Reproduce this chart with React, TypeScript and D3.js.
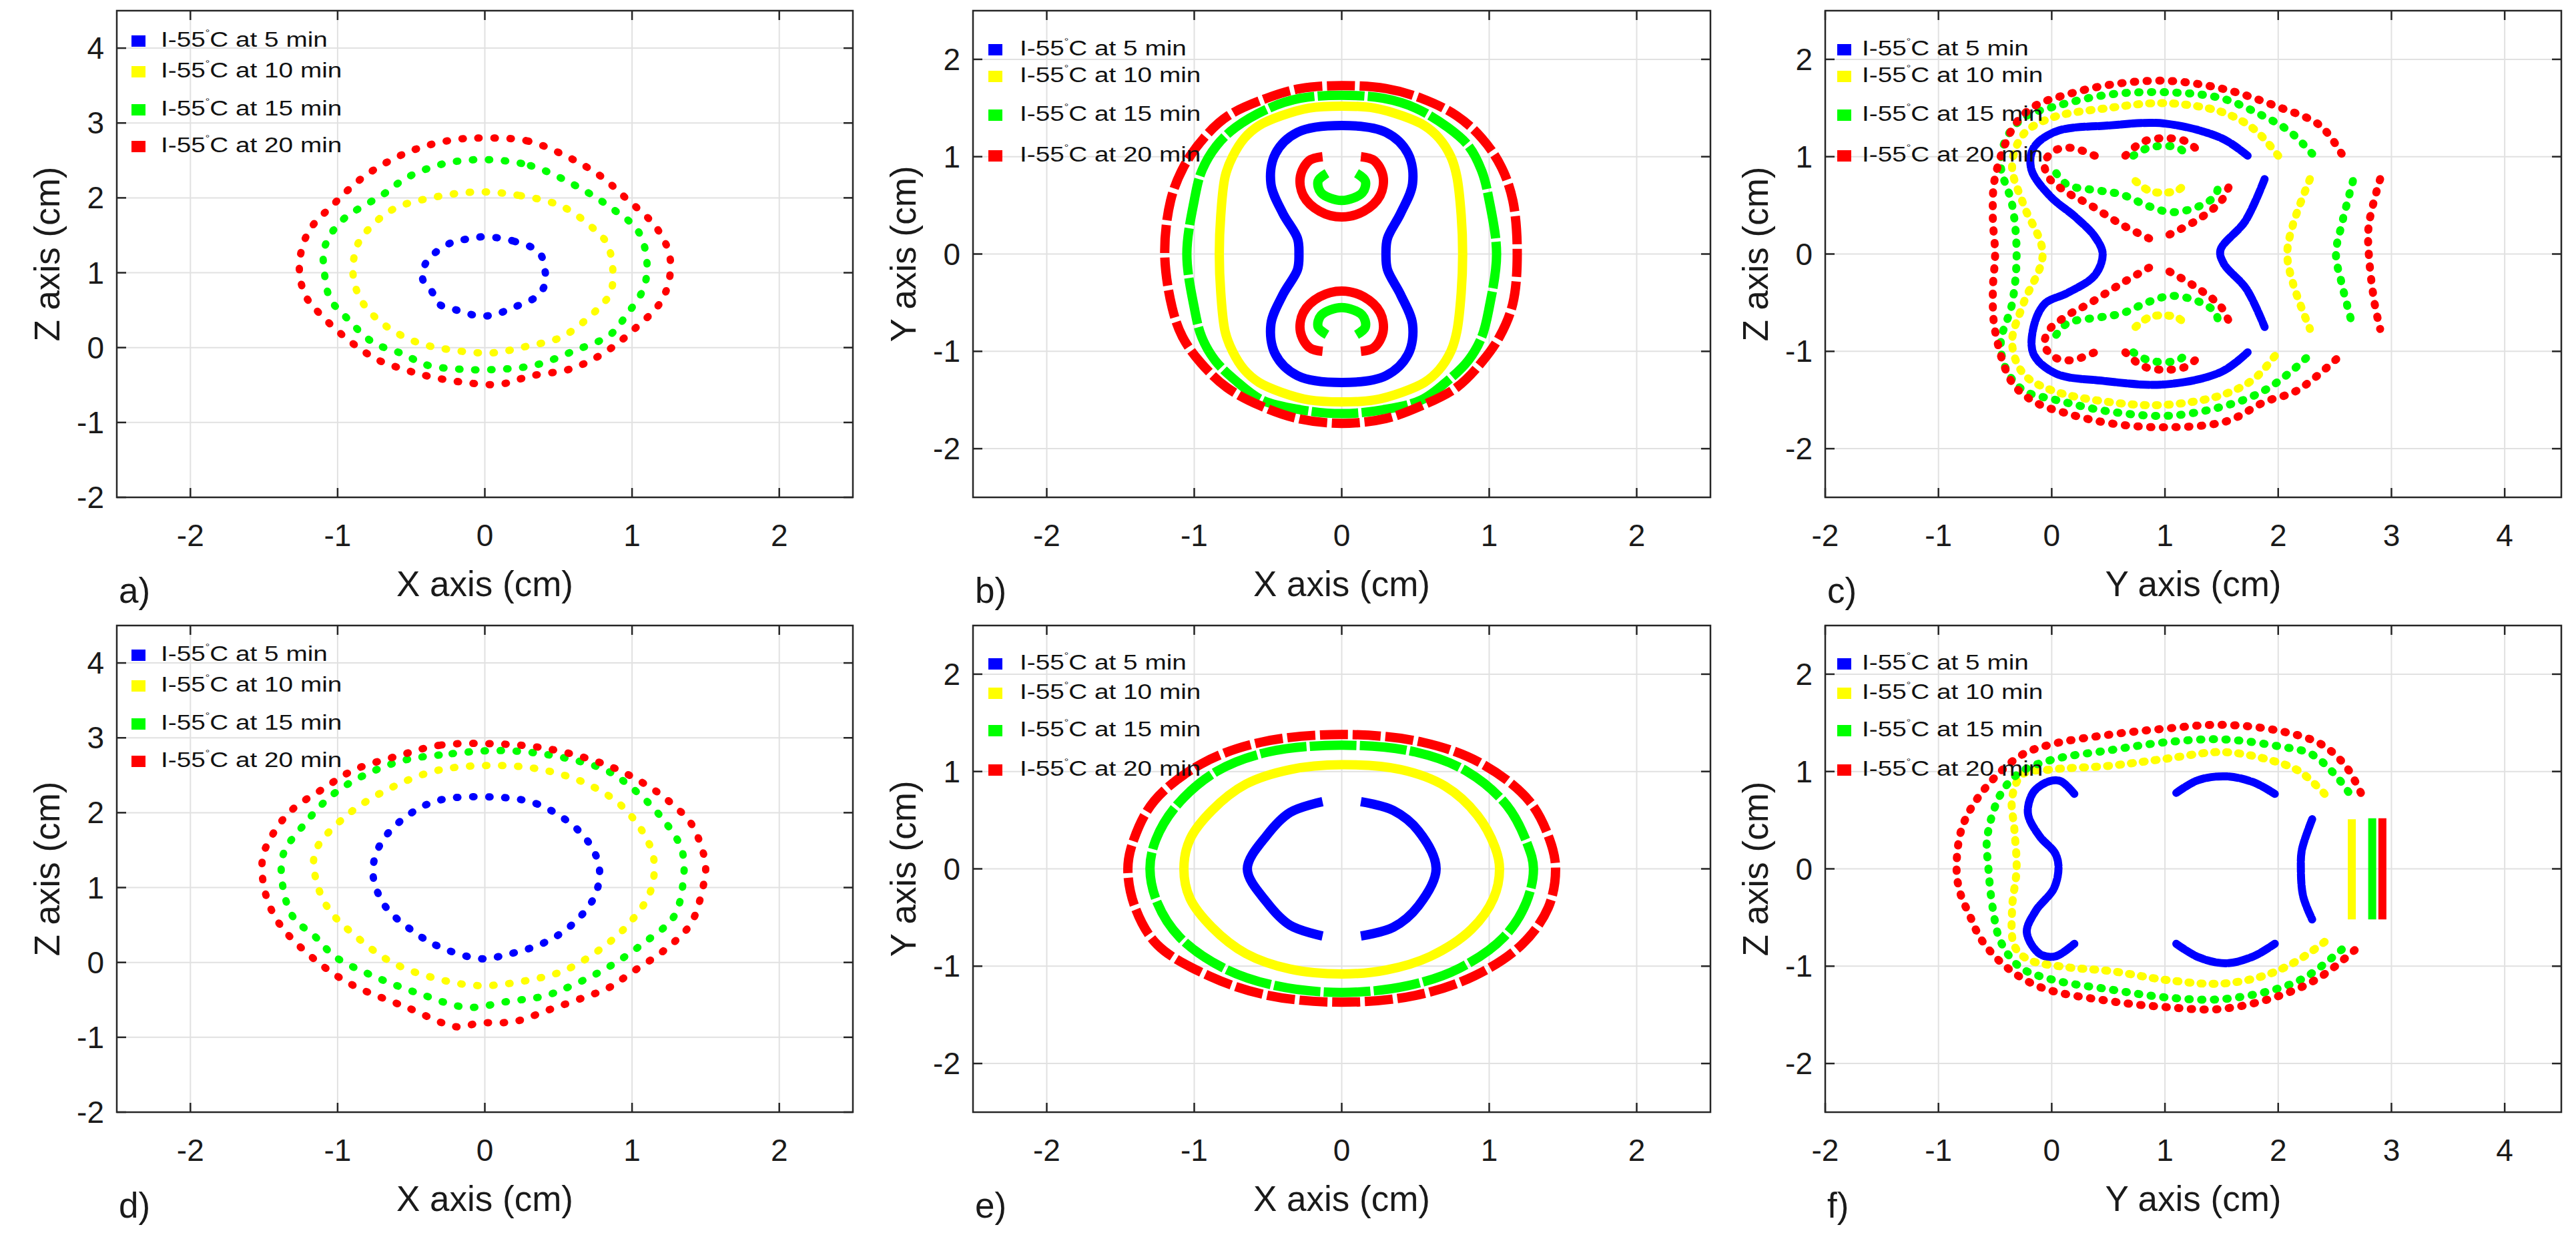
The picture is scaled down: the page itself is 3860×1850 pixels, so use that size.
import * as d3 from 'd3';

type Pt = [number, number];

// ---- panel a : XZ plane, side 1 ----
const aBlue: Pt[] = [[0, 1.48], [0.2, 1.42], [0.37, 1.27], [0.41, 1.01], [0.41, 0.85], [0.35, 0.68], [0.2, 0.54], [0.08, 0.45], [-0.03, 0.42], [-0.19, 0.5], [-0.31, 0.58], [-0.36, 0.75], [-0.42, 0.9], [-0.42, 1.03], [-0.38, 1.19], [-0.23, 1.4], [-0.12, 1.45]];
const aYellow: Pt[] = [[-0.03, 2.08], [0.24, 2.03], [0.52, 1.89], [0.72, 1.62], [0.83, 1.39], [0.87, 1.01], [0.85, 0.72], [0.72, 0.43], [0.52, 0.14], [0.29, 0.02], [0.05, -0.07], [-0.23, -0.03], [-0.46, 0.07], [-0.68, 0.3], [-0.83, 0.6], [-0.89, 0.9], [-0.89, 1.19], [-0.85, 1.43], [-0.64, 1.83], [-0.34, 2.01]];
const aGreen: Pt[] = [[0.01, 2.51], [0.31, 2.43], [0.61, 2.17], [0.87, 1.85], [1.04, 1.56], [1.1, 1.17], [1.08, 0.8], [0.96, 0.43], [0.85, 0.17], [0.61, -0.04], [0.35, -0.23], [0.1, -0.29], [-0.16, -0.29], [-0.4, -0.23], [-0.55, -0.09], [-0.76, 0.07], [-0.94, 0.4], [-1.05, 0.65], [-1.09, 1.01], [-1.09, 1.33], [-0.98, 1.68], [-0.68, 2.06], [-0.53, 2.27], [-0.27, 2.46]];
const aRed: Pt[] = [[0, 2.8], [0.29, 2.76], [0.55, 2.56], [0.78, 2.3], [0.95, 2.01], [1.17, 1.59], [1.26, 1.17], [1.21, 0.66], [1.0, 0.22], [0.81, -0.07], [0.59, -0.28], [0.31, -0.38], [0.1, -0.49], [-0.16, -0.46], [-0.39, -0.38], [-0.55, -0.29], [-0.72, -0.17], [-0.9, 0.06], [-1.11, 0.43], [-1.22, 0.7], [-1.26, 1.09], [-1.2, 1.54], [-1.03, 1.91], [-0.81, 2.3], [-0.51, 2.62], [-0.23, 2.77]];

// ---- panel b : XY plane, side 1 ----
const bBlue: Pt[] = [[0, 1.32], [0.3, 1.25], [0.45, 1.03], [0.48, 0.72], [0.4, 0.42], [0.31, 0.16], [0.3, 0], [0.31, -0.16], [0.4, -0.42], [0.48, -0.72], [0.45, -1.03], [0.3, -1.25], [0, -1.32], [-0.3, -1.25], [-0.45, -1.03], [-0.48, -0.72], [-0.4, -0.42], [-0.3, -0.16], [-0.29, 0], [-0.3, 0.16], [-0.4, 0.42], [-0.48, 0.72], [-0.45, 1.03], [-0.3, 1.25]];
const bYellow: Pt[] = [[0, 1.52], [0.22, 1.5], [0.41, 1.42], [0.56, 1.32], [0.66, 1.19], [0.74, 1.0], [0.78, 0.8], [0.81, 0.4], [0.82, 0], [0.81, -0.4], [0.78, -0.8], [0.74, -1.0], [0.66, -1.19], [0.56, -1.32], [0.41, -1.42], [0.22, -1.5], [0, -1.52], [-0.22, -1.5], [-0.41, -1.42], [-0.56, -1.32], [-0.66, -1.19], [-0.74, -1.0], [-0.79, -0.8], [-0.82, -0.4], [-0.83, 0], [-0.82, 0.4], [-0.79, 0.8], [-0.74, 1.0], [-0.66, 1.19], [-0.56, 1.32], [-0.41, 1.42], [-0.22, 1.5]];
const bGreen: Pt[] = [[0, 1.63], [0.28, 1.6], [0.5, 1.5], [0.72, 1.3], [0.86, 1.11], [0.95, 0.85], [1.0, 0.55], [1.05, 0], [1.0, -0.55], [0.95, -0.85], [0.86, -1.09], [0.72, -1.3], [0.54, -1.5], [0.28, -1.6], [0, -1.64], [-0.28, -1.6], [-0.54, -1.5], [-0.72, -1.3], [-0.86, -1.09], [-0.95, -0.85], [-1.0, -0.55], [-1.05, 0], [-1.0, 0.55], [-0.95, 0.85], [-0.85, 1.11], [-0.72, 1.3], [-0.49, 1.5], [-0.28, 1.6]];
const bRed: Pt[] = [[0, 1.73], [0.3, 1.7], [0.54, 1.6], [0.78, 1.42], [0.95, 1.19], [1.08, 0.9], [1.16, 0.55], [1.19, 0], [1.16, -0.51], [1.07, -0.85], [0.95, -1.11], [0.78, -1.37], [0.54, -1.56], [0.3, -1.69], [0, -1.74], [-0.3, -1.69], [-0.55, -1.56], [-0.78, -1.37], [-0.96, -1.11], [-1.08, -0.85], [-1.15, -0.55], [-1.2, 0], [-1.16, 0.55], [-1.07, 0.9], [-0.93, 1.2], [-0.77, 1.42], [-0.51, 1.6], [-0.28, 1.7]];
const bGreenUp: Pt[] = [[-0.1, 0.83], [-0.16, 0.75], [-0.14, 0.63], [0, 0.55], [0.14, 0.63], [0.16, 0.75], [0.1, 0.83]];
const bGreenDown: Pt[] = [[-0.1, -0.83], [-0.16, -0.75], [-0.14, -0.63], [0, -0.55], [0.14, -0.63], [0.16, -0.75], [0.1, -0.83]];
const bRedUp: Pt[] = [[-0.13, 1.0], [-0.22, 0.96], [-0.28, 0.8], [-0.26, 0.6], [-0.15, 0.44], [0, 0.38], [0.15, 0.44], [0.26, 0.6], [0.28, 0.8], [0.22, 0.96], [0.13, 1.0]];
const bRedDown: Pt[] = [[-0.13, -1.0], [-0.22, -0.96], [-0.28, -0.8], [-0.26, -0.6], [-0.15, -0.44], [0, -0.38], [0.15, -0.44], [0.26, -0.6], [0.28, -0.8], [0.22, -0.96], [0.13, -1.0]];

// ---- panel c : YZ plane, side 1 ----
const cBlueOuter: Pt[] = [[1.73, 1.01], [1.5, 1.19], [1.0, 1.34], [0.5, 1.32], [0.04, 1.26], [-0.16, 1.09], [-0.18, 0.87], [-0.01, 0.59], [0.21, 0.38], [0.38, 0.18], [0.45, 0], [0.38, -0.22], [0.14, -0.4], [-0.06, -0.51], [-0.16, -0.75], [-0.16, -1.03], [0.04, -1.23], [0.43, -1.3], [1.0, -1.34], [1.5, -1.21], [1.73, -1.01]];
const cBlueRight: Pt[] = [[1.88, 0.77], [1.71, 0.34], [1.49, 0.04], [1.52, -0.1], [1.72, -0.36], [1.88, -0.75]];
const cYellowOuter: Pt[] = [[2.0, 1.01], [1.79, 1.28], [1.5, 1.46], [1.0, 1.55], [0.5, 1.5], [0, 1.4], [-0.25, 1.23], [-0.35, 0.91], [-0.25, 0.51], [-0.08, 0], [-0.25, -0.51], [-0.35, -0.91], [-0.25, -1.23], [0, -1.4], [0.5, -1.52], [1.0, -1.55], [1.5, -1.45], [1.79, -1.28], [2.0, -1.0]];
const cYellowRight: Pt[] = [[2.28, 0.77], [2.13, 0.3], [2.08, 0], [2.13, -0.3], [2.28, -0.77]];
const cYellowUp: Pt[] = [[0.74, 0.75], [0.86, 0.65], [1.0, 0.63], [1.12, 0.66], [1.2, 0.75]];
const cYellowDown: Pt[] = [[0.74, -0.75], [0.86, -0.65], [1.0, -0.63], [1.12, -0.66], [1.2, -0.75]];
const cGreenOuter: Pt[] = [[2.3, 1.03], [2.1, 1.26], [1.83, 1.44], [1.5, 1.6], [1.06, 1.66], [0.52, 1.64], [0.04, 1.52], [-0.25, 1.4], [-0.4, 1.19], [-0.45, 0.91], [-0.35, 0.51], [-0.31, 0], [-0.35, -0.51], [-0.45, -0.91], [-0.4, -1.19], [-0.25, -1.4], [0.04, -1.5], [0.52, -1.62], [1.06, -1.66], [1.59, -1.54], [1.88, -1.4], [2.1, -1.22], [2.3, -1.01]];
const cGreenRight: Pt[] = [[2.66, 0.75], [2.56, 0.3], [2.51, 0], [2.56, -0.3], [2.66, -0.75]];
const cGreenUpWave: Pt[] = [[0.04, 0.83], [0.14, 0.71], [0.43, 0.65], [0.62, 0.61], [0.86, 0.49], [1.06, 0.43], [1.3, 0.49], [1.45, 0.61], [1.47, 0.77]];
const cGreenDownWave: Pt[] = [[0.04, -0.83], [0.14, -0.71], [0.43, -0.65], [0.62, -0.61], [0.86, -0.49], [1.06, -0.43], [1.3, -0.49], [1.45, -0.61], [1.47, -0.77]];
const cGreenUpCap: Pt[] = [[0.72, 1.01], [0.85, 1.09], [1.0, 1.11], [1.12, 1.09], [1.2, 1.01]];
const cGreenDownCap: Pt[] = [[0.72, -1.01], [0.85, -1.09], [1.0, -1.11], [1.12, -1.09], [1.2, -1.01]];
const cRedOuter: Pt[] = [[2.56, 1.03], [2.37, 1.32], [1.98, 1.52], [1.5, 1.7], [1.0, 1.78], [0.52, 1.74], [0.14, 1.64], [-0.15, 1.52], [-0.33, 1.32], [-0.5, 0.79], [-0.52, 0.38], [-0.5, 0], [-0.52, -0.38], [-0.5, -0.79], [-0.35, -1.32], [-0.15, -1.52], [0.14, -1.64], [0.52, -1.74], [1.0, -1.78], [1.54, -1.72], [1.88, -1.52], [2.17, -1.4], [2.56, -1.03]];
const cRedRight: Pt[] = [[2.9, 0.77], [2.8, 0.3], [2.8, 0], [2.85, -0.5], [2.9, -0.77]];
const cRedUpLeft: Pt[] = [[0.86, 0.16], [0.62, 0.3], [0.33, 0.51], [0.14, 0.63], [-0.03, 0.79], [-0.06, 0.95], [0.04, 1.07], [0.18, 1.09], [0.38, 1.01]];
const cRedUpRight: Pt[] = [[1.04, 0.2], [1.3, 0.36], [1.5, 0.55], [1.59, 0.77]];
const cRedUpCap: Pt[] = [[0.65, 1.01], [0.8, 1.15], [1.0, 1.19], [1.2, 1.15], [1.33, 1.01]];
const cRedDownLeft: Pt[] = [[0.86, -0.14], [0.62, -0.3], [0.33, -0.51], [0.14, -0.63], [-0.03, -0.79], [-0.06, -0.95], [0.04, -1.07], [0.18, -1.09], [0.38, -1.01]];
const cRedDownRight: Pt[] = [[1.04, -0.18], [1.3, -0.36], [1.5, -0.55], [1.59, -0.77]];
const cRedDownCap: Pt[] = [[0.65, -1.01], [0.8, -1.15], [1.0, -1.19], [1.2, -1.15], [1.33, -1.01]];

// ---- panel d : XZ plane, side 2 ----
const dBlue: Pt[] = [[0.05, 2.21], [0.35, 2.12], [0.61, 1.81], [0.74, 1.49], [0.78, 1.2], [0.74, 0.86], [0.59, 0.5], [0.4, 0.26], [0.14, 0.1], [-0.03, 0.05], [-0.31, 0.21], [-0.49, 0.42], [-0.68, 0.76], [-0.76, 1.18], [-0.72, 1.54], [-0.59, 1.86], [-0.34, 2.15]];
const dYellow: Pt[] = [[0.1, 2.63], [-0.31, 2.57], [-0.64, 2.33], [-0.94, 1.96], [-1.15, 1.49], [-1.15, 1.13], [-1.06, 0.71], [-0.87, 0.34], [-0.63, 0], [-0.34, -0.21], [-0.04, -0.31], [0.29, -0.24], [0.55, -0.1], [0.8, 0.2], [0.97, 0.5], [1.12, 0.92], [1.15, 1.34], [1.1, 1.65], [0.93, 2.09], [0.7, 2.38], [0.4, 2.57]];
const dGreen: Pt[] = [[0.09, 2.83], [-0.31, 2.77], [-0.55, 2.7], [-0.83, 2.49], [-1.04, 2.23], [-1.22, 1.86], [-1.37, 1.44], [-1.37, 0.99], [-1.3, 0.6], [-1.15, 0.34], [-1.02, 0.08], [-0.76, -0.18], [-0.44, -0.42], [-0.12, -0.6], [0.16, -0.52], [0.4, -0.45], [0.59, -0.31], [0.85, -0.05], [1.08, 0.26], [1.28, 0.6], [1.34, 0.97], [1.34, 1.49], [1.19, 1.96], [1.0, 2.33], [0.82, 2.57], [0.44, 2.77]];
const dRed: Pt[] = [[0.07, 2.92], [-0.31, 2.9], [-0.57, 2.77], [-0.89, 2.57], [-1.09, 2.33], [-1.32, 2.02], [-1.45, 1.68], [-1.51, 1.39], [-1.49, 0.92], [-1.39, 0.5], [-1.15, 0.03], [-0.91, -0.29], [-0.53, -0.6], [-0.19, -0.86], [-0.04, -0.81], [0.2, -0.79], [0.44, -0.63], [0.67, -0.47], [0.84, -0.34], [1.0, -0.13], [1.23, 0.18], [1.4, 0.52], [1.48, 0.99], [1.5, 1.28], [1.47, 1.55], [1.4, 1.86], [1.27, 2.12], [1.13, 2.33], [0.85, 2.62], [0.44, 2.85]];

// ---- panel e : XY plane, side 2 ----
const eBlueLeft: Pt[] = [[-0.13, 0.69], [-0.35, 0.58], [-0.51, 0.34], [-0.64, 0], [-0.51, -0.34], [-0.35, -0.58], [-0.13, -0.69]];
const eBlueRight: Pt[] = [[0.13, 0.69], [0.35, 0.6], [0.52, 0.39], [0.64, 0], [0.52, -0.38], [0.35, -0.6], [0.13, -0.69]];
const eYellow: Pt[] = [[0, 1.07], [0.4, 1.02], [0.7, 0.85], [0.92, 0.55], [1.04, 0.22], [1.07, 0], [1.03, -0.3], [0.88, -0.62], [0.6, -0.9], [0.3, -1.04], [0, -1.08], [-0.35, -1.03], [-0.65, -0.87], [-0.88, -0.6], [-1.03, -0.3], [-1.07, 0], [-1.03, 0.3], [-0.88, 0.6], [-0.65, 0.87], [-0.35, 1.02]];
const eGreen: Pt[] = [[0, 1.27], [0.5, 1.2], [0.85, 1.0], [1.12, 0.65], [1.26, 0.25], [1.3, 0], [1.25, -0.35], [1.1, -0.7], [0.8, -1.02], [0.45, -1.2], [0, -1.27], [-0.45, -1.2], [-0.8, -1.02], [-1.1, -0.7], [-1.25, -0.35], [-1.3, 0], [-1.26, 0.3], [-1.12, 0.65], [-0.85, 1.0], [-0.5, 1.2]];
const eRed: Pt[] = [[0, 1.38], [0.55, 1.3], [0.95, 1.08], [1.27, 0.7], [1.41, 0.3], [1.45, 0], [1.4, -0.4], [1.22, -0.78], [0.9, -1.1], [0.5, -1.3], [0, -1.37], [-0.5, -1.3], [-0.9, -1.1], [-1.25, -0.78], [-1.4, -0.4], [-1.45, 0], [-1.41, 0.3], [-1.27, 0.7], [-0.95, 1.08], [-0.55, 1.3]];

// ---- panel f : YZ plane, side 2 ----
const fBlueLeft: Pt[] = [[0.2, 0.77], [0.08, 0.9], [-0.02, 0.9], [-0.16, 0.79], [-0.21, 0.57], [-0.11, 0.34], [0.03, 0.16], [0.06, 0.02], [0.02, -0.2], [-0.14, -0.43], [-0.22, -0.65], [-0.11, -0.87], [0.03, -0.9], [0.2, -0.77]];
const fBlueTop: Pt[] = [[1.1, 0.78], [1.29, 0.91], [1.54, 0.95], [1.78, 0.89], [1.97, 0.77]];
const fBlueBottom: Pt[] = [[1.1, -0.77], [1.3, -0.91], [1.54, -0.97], [1.78, -0.9], [1.97, -0.77]];
const fBlueRight: Pt[] = [[2.3, 0.51], [2.21, 0.2], [2.2, 0.02], [2.22, -0.28], [2.3, -0.52]];
const fYellowOuter: Pt[] = [[2.41, 0.77], [2.19, 1.0], [1.92, 1.12], [1.51, 1.2], [1.0, 1.13], [0.52, 1.06], [-0.01, 1.02], [-0.26, 0.97], [-0.35, 0.73], [-0.33, 0.41], [-0.31, 0], [-0.35, -0.41], [-0.33, -0.79], [-0.21, -0.93], [0.13, -1.01], [0.52, -1.05], [1.0, -1.14], [1.49, -1.18], [1.87, -1.1], [2.16, -0.95], [2.41, -0.75]];
const fYellowRight: Pt[] = [[2.65, 0.51], [2.65, 0], [2.65, -0.52]];
const fGreenOuter: Pt[] = [[2.62, 0.79], [2.5, 0.97], [2.29, 1.18], [2.0, 1.26], [1.51, 1.33], [1.0, 1.3], [0.52, 1.22], [0, 1.12], [-0.28, 0.99], [-0.45, 0.77], [-0.57, 0.32], [-0.56, 0.02], [-0.52, -0.41], [-0.45, -0.75], [-0.28, -1.01], [0.01, -1.14], [0.52, -1.24], [1.0, -1.32], [1.49, -1.34], [1.97, -1.24], [2.26, -1.1], [2.6, -0.79]];
const fGreenRight: Pt[] = [[2.83, 0.52], [2.83, 0], [2.83, -0.52]];
const fRedOuter: Pt[] = [[2.73, 0.78], [2.6, 1.05], [2.38, 1.28], [2.0, 1.42], [1.49, 1.48], [1.0, 1.44], [0.52, 1.38], [0, 1.28], [-0.28, 1.16], [-0.6, 0.81], [-0.79, 0.43], [-0.84, 0], [-0.81, -0.24], [-0.72, -0.49], [-0.62, -0.73], [-0.4, -1.01], [-0.09, -1.22], [0.52, -1.36], [1.0, -1.42], [1.49, -1.44], [1.97, -1.32], [2.36, -1.12], [2.72, -0.79]];
const fRedRight: Pt[] = [[2.92, 0.52], [2.92, 0], [2.92, -0.52]];

// ---- shared text / ticks ----
const legendLabels = ['I-55°C at 5 min', 'I-55°C at 10 min', 'I-55°C at 15 min', 'I-55°C at 20 min'];
const seriesColors = ['#0000ff', '#ffff00', '#00ff00', '#ff0000'];
const ticksSym = [-2, -1, 0, 1, 2];
const ticksZ = [-2, -1, 0, 1, 2, 3, 4];
const ticksY = [-2, -1, 0, 1, 2, 3, 4];

type Series = { c: number; pts: Pt[]; closed?: boolean; solid?: boolean };

const FONT = 'Liberation Sans, Arial, Helvetica, sans-serif';

// draw styles per panel kind, dash indexed by colour
const kinds: Record<string, { w: number; dash: (string | null)[]; cap: string }> = {
  sparse: { w: 11, dash: ['2 22', '2 22', '2 22', '2 22'], cap: 'round' },
  dense: { w: 14, dash: [null, null, '70 5', '42 7'], cap: 'butt' },
  medium: { w: 12, dash: ['14 3', '3 15', '2 17', '2 17'], cap: 'round' },
};

const panels = [
  {
    label: 'a)', left: 175, top: 16, right: 1278, bottom: 745, xDom: [-2.5, 2.5], yDom: [-2, 4.5], xTicks: ticksSym, yTicks: ticksZ,
    xTitle: 'X axis (cm)', yTitle: 'Z axis (cm)', kind: 'sparse', leg: { sx: 22, tx: 66, rows: [54, 100, 157, 212] },
    series: [{ c: 0, pts: aBlue, closed: true }, { c: 1, pts: aYellow, closed: true }, { c: 2, pts: aGreen, closed: true }, { c: 3, pts: aRed, closed: true }] as Series[],
  },
  {
    label: 'b)', left: 1458, top: 16, right: 2563, bottom: 745, xDom: [-2.5, 2.5], yDom: [-2.5, 2.5], xTicks: ticksSym, yTicks: ticksSym,
    xTitle: 'X axis (cm)', yTitle: 'Y axis (cm)', kind: 'dense', leg: { sx: 23, tx: 70, rows: [67, 107, 165, 226] },
    series: [{ c: 0, pts: bBlue, closed: true }, { c: 1, pts: bYellow, closed: true }, { c: 2, pts: bGreen, closed: true }, { c: 3, pts: bRed, closed: true },
      { c: 2, pts: bGreenUp, solid: true }, { c: 2, pts: bGreenDown, solid: true }, { c: 3, pts: bRedUp, solid: true }, { c: 3, pts: bRedDown, solid: true }] as Series[],
  },
  {
    label: 'c)', left: 2735, top: 16, right: 3838, bottom: 745, xDom: [-2, 4.5], yDom: [-2.5, 2.5], xTicks: ticksY, yTicks: ticksSym,
    xTitle: 'Y axis (cm)', yTitle: 'Z axis (cm)', kind: 'medium', leg: { sx: 18, tx: 55, rows: [67, 107, 165, 226] },
    series: [{ c: 0, pts: cBlueOuter }, { c: 0, pts: cBlueRight },
      { c: 1, pts: cYellowOuter }, { c: 1, pts: cYellowRight }, { c: 1, pts: cYellowUp }, { c: 1, pts: cYellowDown },
      { c: 2, pts: cGreenOuter }, { c: 2, pts: cGreenRight }, { c: 2, pts: cGreenUpWave }, { c: 2, pts: cGreenDownWave }, { c: 2, pts: cGreenUpCap }, { c: 2, pts: cGreenDownCap },
      { c: 3, pts: cRedOuter }, { c: 3, pts: cRedRight }, { c: 3, pts: cRedUpLeft }, { c: 3, pts: cRedUpRight }, { c: 3, pts: cRedUpCap },
      { c: 3, pts: cRedDownLeft }, { c: 3, pts: cRedDownRight }, { c: 3, pts: cRedDownCap }] as Series[],
  },
  {
    label: 'd)', left: 175, top: 937, right: 1278, bottom: 1666, xDom: [-2.5, 2.5], yDom: [-2, 4.5], xTicks: ticksSym, yTicks: ticksZ,
    xTitle: 'X axis (cm)', yTitle: 'Z axis (cm)', kind: 'sparse', leg: { sx: 22, tx: 66, rows: [53, 99, 156, 212] },
    series: [{ c: 0, pts: dBlue, closed: true }, { c: 1, pts: dYellow, closed: true }, { c: 2, pts: dGreen, closed: true }, { c: 3, pts: dRed, closed: true }] as Series[],
  },
  {
    label: 'e)', left: 1458, top: 937, right: 2563, bottom: 1666, xDom: [-2.5, 2.5], yDom: [-2.5, 2.5], xTicks: ticksSym, yTicks: ticksSym,
    xTitle: 'X axis (cm)', yTitle: 'Y axis (cm)', kind: 'dense', leg: { sx: 23, tx: 70, rows: [66, 110, 166, 225] },
    series: [{ c: 0, pts: eBlueLeft }, { c: 0, pts: eBlueRight }, { c: 1, pts: eYellow, closed: true }, { c: 2, pts: eGreen, closed: true }, { c: 3, pts: eRed, closed: true }] as Series[],
  },
  {
    label: 'f)', left: 2735, top: 937, right: 3838, bottom: 1666, xDom: [-2, 4.5], yDom: [-2.5, 2.5], xTicks: ticksY, yTicks: ticksSym,
    xTitle: 'Y axis (cm)', yTitle: 'Z axis (cm)', kind: 'medium', leg: { sx: 18, tx: 55, rows: [66, 110, 166, 225] },
    series: [{ c: 0, pts: fBlueLeft }, { c: 0, pts: fBlueTop }, { c: 0, pts: fBlueBottom }, { c: 0, pts: fBlueRight },
      { c: 1, pts: fYellowOuter }, { c: 1, pts: fYellowRight, solid: true },
      { c: 2, pts: fGreenOuter }, { c: 2, pts: fGreenRight, solid: true },
      { c: 3, pts: fRedOuter }, { c: 3, pts: fRedRight, solid: true }] as Series[],
  },
];

function Panel({ p }: { p: (typeof panels)[number] }) {
  const x = d3.scaleLinear().domain(p.xDom).range([p.left, p.right]);
  const y = d3.scaleLinear().domain(p.yDom).range([p.bottom, p.top]);
  const k = kinds[p.kind];
  const tickLen = 14;

  return (
    <g>
      {/* grid */}
      {p.xTicks.map((t) => (
        <line key={'gx' + t} x1={x(t)} x2={x(t)} y1={p.top} y2={p.bottom} stroke="#e1e1e1" strokeWidth={2} />
      ))}
      {p.yTicks.map((t) => (
        <line key={'gy' + t} x1={p.left} x2={p.right} y1={y(t)} y2={y(t)} stroke="#e1e1e1" strokeWidth={2} />
      ))}

      {/* contours */}
      {p.series.map((s, i) => {
        const line = d3.line<Pt>()
          .x((d) => x(d[0]))
          .y((d) => y(d[1]))
          .curve(s.closed ? d3.curveCatmullRomClosed.alpha(0.5) : d3.curveCatmullRom.alpha(0.5));
        const dash = s.solid ? null : k.dash[s.c];
        return (
          <path key={i} d={line(s.pts) || ''} fill="none" stroke={seriesColors[s.c]} strokeWidth={k.w}
            strokeDasharray={dash || undefined} strokeLinecap={dash ? (k.cap as any) : 'butt'} strokeLinejoin="round" />
        );
      })}

      {/* box and inward ticks */}
      <rect x={p.left} y={p.top} width={p.right - p.left} height={p.bottom - p.top} fill="none" stroke="#262626" strokeWidth={2.5} />
      {p.xTicks.map((t) => (
        <g key={'tx' + t} stroke="#262626" strokeWidth={2.5}>
          <line x1={x(t)} x2={x(t)} y1={p.bottom} y2={p.bottom - tickLen} />
          <line x1={x(t)} x2={x(t)} y1={p.top} y2={p.top + tickLen} />
        </g>
      ))}
      {p.yTicks.map((t) => (
        <g key={'ty' + t} stroke="#262626" strokeWidth={2.5}>
          <line x1={p.left} x2={p.left + tickLen} y1={y(t)} y2={y(t)} />
          <line x1={p.right} x2={p.right - tickLen} y1={y(t)} y2={y(t)} />
        </g>
      ))}

      {/* tick labels */}
      {p.xTicks.map((t) => (
        <text key={'lx' + t} x={x(t)} y={p.bottom + 73} textAnchor="middle" fontSize={46} fontFamily={FONT} fill="#1a1a1a">{t}</text>
      ))}
      {p.yTicks.map((t) => (
        <text key={'ly' + t} x={p.left - 19} y={y(t) + 16} textAnchor="end" fontSize={46} fontFamily={FONT} fill="#1a1a1a">{t}</text>
      ))}

      {/* titles */}
      <text x={(p.left + p.right) / 2} y={p.bottom + 148} textAnchor="middle" fontSize={53} fontFamily={FONT} fill="#1a1a1a">{p.xTitle}</text>
      <text transform={`translate(${p.left - 86},${(p.top + p.bottom) / 2}) rotate(-90)`} textAnchor="middle" fontSize={53} fontFamily={FONT} fill="#1a1a1a">{p.yTitle}</text>
      <text x={p.left + 3} y={p.bottom + 158} fontSize={53} fontFamily={FONT} fill="#1a1a1a">{p.label}</text>

      {/* legend (no box, drawn over the data as in the source) */}
      {legendLabels.map((lab, i) => {
        const [pre, post] = lab.split('°');
        const by = p.top + p.leg.rows[i];
        return (
          <g key={'lg' + i}>
            <rect x={p.left + p.leg.sx} y={by - 17} width={21} height={17} fill={seriesColors[i]} />
            <text transform={`translate(${p.left + p.leg.tx},${by}) scale(1.25,1)`} fontSize={31} fontFamily={FONT} fill="#111">
              <tspan>{pre}</tspan>
              <tspan dy={-17} fontSize={13}>°</tspan>
              <tspan dy={17}>{post}</tspan>
            </text>
          </g>
        );
      })}
    </g>
  );
}

export default function App() {
  return (
    <svg width={3860} height={1850} style={{ position: 'absolute', left: 0, top: 0, background: '#fff' }}>
      <rect x={0} y={0} width={3860} height={1850} fill="#fff" />
      {panels.map((p) => (
        <Panel key={p.label} p={p} />
      ))}
    </svg>
  );
}
